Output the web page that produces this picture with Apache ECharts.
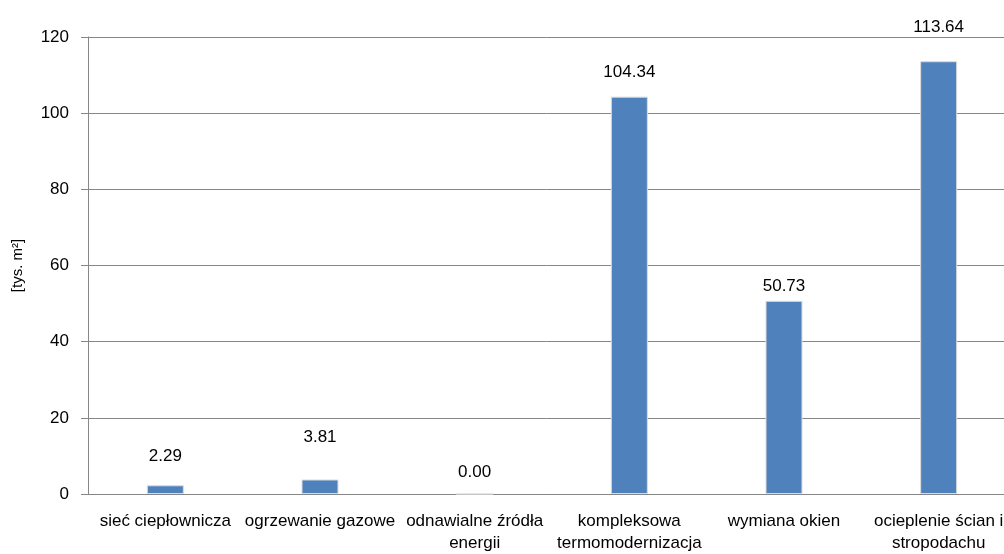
<!DOCTYPE html>
<html>
<head>
<meta charset="utf-8">
<script src="https://cdn.jsdelivr.net/npm/echarts@6/dist/echarts.min.js"></script>
<style>html,body{margin:0;padding:0;background:#fff}#c{width:1004px;height:554px}</style>
</head>
<body>
<div id="c"></div>
<script>
const categories = ["sieć ciepłownicza", "ogrzewanie gazowe", "odnawialne źródła\nenergii", "kompleksowa\ntermomodernizacja", "wymiana okien", "ocieplenie ścian i\nstropodachu"];
const values = [2.29, 3.81, 0.00, 104.34, 50.73, 113.64];
const yTicks = [0, 20, 40, 60, 80, 100, 120];
const labelDistance = [20, 34, 13, 16, 6, 25];

const chart = echarts.init(document.getElementById('c'), null, {renderer: 'canvas'});
const font = '"Liberation Sans", Arial, sans-serif';
chart.setOption({
  animation: false,
  grid: {left: 88, top: 37, bottom: 60, right: -12, outerBoundsMode: 'none', containLabel: false},
  xAxis: {
    type: 'category',
    data: categories,
    axisLine: {show: true, lineStyle: {color: '#868686', width: 1}},
    axisTick: {show: false},
    axisLabel: {color: '#000', fontFamily: font, fontSize: 17, lineHeight: 22, margin: 16, interval: 0}
  },
  yAxis: {
    type: 'value',
    min: yTicks[0],
    max: yTicks[yTicks.length - 1],
    interval: 20,
    name: '[tys. m²]',
    nameLocation: 'middle',
    nameGap: 63,
    nameRotate: 90,
    nameTextStyle: {color: '#000', fontFamily: font, fontSize: 15},
    axisLine: {show: true, lineStyle: {color: '#868686', width: 1}},
    axisTick: {show: true, length: 7, lineStyle: {color: '#868686'}},
    axisLabel: {color: '#000', fontFamily: font, fontSize: 17, margin: 19},
    splitLine: {show: true, lineStyle: {color: '#868686', width: 1}}
  },
  series: [{
    type: 'bar',
    barWidth: 37,
    data: values.map((v, i) => ({
      value: v,
      label: {distance: labelDistance[i]}
    })),
    itemStyle: {color: '#4f81bd', borderColor: '#dcdcdc', borderWidth: 1},
    label: {
      show: true,
      position: 'top',
      color: '#000',
      fontFamily: font,
      fontSize: 17,
      formatter: p => p.value.toFixed(2)
    }
  }]
});
</script>
</body>
</html>
